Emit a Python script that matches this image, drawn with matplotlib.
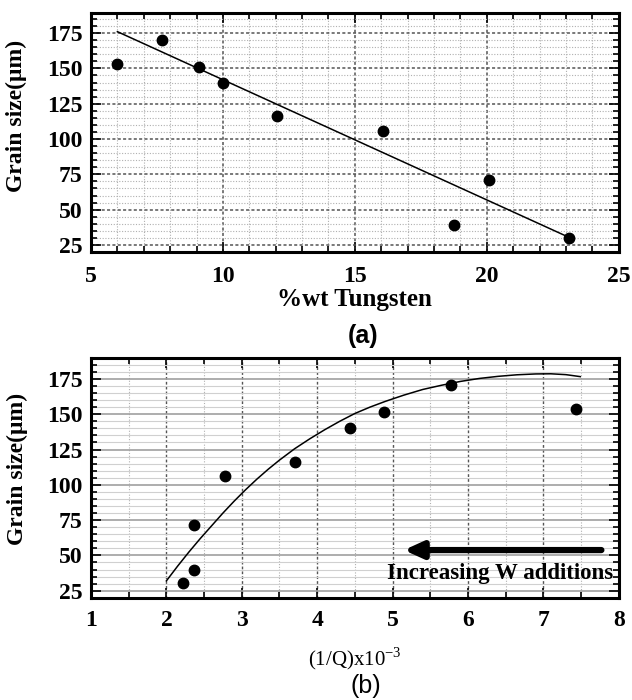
import matplotlib
matplotlib.use("Agg")
import matplotlib.pyplot as plt
from matplotlib.ticker import MultipleLocator

plt.rcParams['font.family'] = ['Liberation Serif', 'DejaVu Serif']
plt.rcParams['mathtext.fontset'] = 'custom'
plt.rcParams['mathtext.rm'] = 'Liberation Serif'

# panel (a): grain size vs tungsten content
w_pct = [6.0, 7.7, 9.1, 10.0, 12.05, 16.05, 18.75, 20.1, 23.1]
grain_a = [153, 170, 151, 140, 116, 106, 39, 71, 30]
fit_a_x = [6.0, 23.1]
fit_a_y = [176, 30.5]

# panel (b): grain size vs 1/Q
inv_q = [2.22, 2.37, 2.37, 2.78, 3.70, 4.44, 4.89, 5.78, 7.43]
grain_b = [30.5, 39.5, 71.5, 106.5, 116.5, 140.5, 151.5, 171, 153.5]
fit_b_x = [2.0, 2.15, 2.3, 2.45, 2.6, 2.75, 2.9, 3.05, 3.2, 3.35, 3.5, 3.7,
           3.9, 4.1, 4.3, 4.5, 4.7, 4.9, 5.15, 5.4, 5.65, 5.9, 6.15, 6.4,
           6.65, 6.9, 7.1, 7.3, 7.49]
fit_b_y = [32, 42.5, 52.5, 62, 71, 80, 88.5, 96.5, 104, 111, 117.5, 125.5,
           132.5, 139, 145, 150.5, 155, 159, 163.5, 167.5, 170.5, 173.2, 175.3,
           176.8, 177.9, 178.5, 178.6, 178, 176.6]

fig = plt.figure(figsize=(6.32, 7.0), dpi=100)
ax1 = fig.add_axes([0.144, 0.64, 0.835, 0.341])
ax2 = fig.add_axes([0.144, 0.146, 0.835, 0.343])

ylab = dict(fontsize=17, fontweight='bold')

def style(ax, xpad):
    for s in ax.spines.values():
        s.set_linewidth(2.2)
    ax.tick_params(which='both', direction='in', top=True, right=True,
                   labelsize=17, width=1.2)
    ax.tick_params(which='major', length=7, pad=xpad)
    ax.tick_params(which='minor', length=4)
    ax.tick_params(axis='y', pad=6)
    for t in ax.get_xticklabels() + ax.get_yticklabels():
        t.set_fontweight('bold')
    ax.set_axisbelow(True)

# ---- (a)
ax1.plot(fit_a_x, fit_a_y, color='black', lw=1.1)
ax1.plot(w_pct, grain_a, 'o', color='black', ms=7.5)
ax1.set_xlim(5, 25)
ax1.set_ylim(20, 189)
ax1.xaxis.set_major_locator(MultipleLocator(5))
ax1.xaxis.set_minor_locator(MultipleLocator(1))
ax1.set_yticks([25, 50, 75, 100, 125, 150, 175])
ax1.yaxis.set_minor_locator(MultipleLocator(5))
ax1.grid(which='major', color='#555555', lw=1.1, ls=(0, (2, 1.5)))
ax1.grid(which='minor', color='#b0b0b0', lw=0.8, ls=(0, (1, 1.5)))
style(ax1, 10)
ax1.set_xlabel('%wt Tungsten', fontsize=18, fontweight='bold')
ax1.xaxis.set_label_coords(0.5, -0.15)
ax1.set_ylabel('Grain size(μm)', **ylab)
ax1.yaxis.set_label_coords(-0.122, 0.57)

# ---- (b)
ax2.plot(fit_b_x, fit_b_y, color='black', lw=1.1)
ax2.plot(inv_q, grain_b, 'o', color='black', ms=7.5)
ax2.set_xlim(1, 8)
ax2.set_ylim(20, 190)
ax2.xaxis.set_major_locator(MultipleLocator(1))
ax2.xaxis.set_minor_locator(MultipleLocator(0.5))
ax2.set_yticks([25, 50, 75, 100, 125, 150, 175])
ax2.yaxis.set_minor_locator(MultipleLocator(5))
ax2.tick_params(axis='y', which='minor', length=0)
ax2.grid(axis='x', which='major', color='#555555', lw=1.0, ls=(0, (2, 1.5)))
ax2.grid(axis='x', which='minor', color='#b0b0b0', lw=0.8, ls=(0, (1, 1.5)))
ax2.grid(axis='y', which='major', color='#a0a0a0', lw=1.2)
ax2.grid(axis='y', which='minor', color='#d0d0d0', lw=0.8)
style(ax2, 9)
ax2.set_xlabel('(1/Q)x10$^{-3}$', fontsize=15)
ax2.xaxis.set_label_coords(0.5, -0.2)
ax2.set_ylabel('Grain size(μm)', **ylab)
ax2.yaxis.set_label_coords(-0.12, 0.535)

ax2.annotate('', xy=(5.15, 53.8), xytext=(7.77, 53.8),
             arrowprops=dict(arrowstyle='-|>,head_length=1.1,head_width=0.5',
                             color='black', lw=4.5, shrinkA=0, shrinkB=0))
ax2.text(6.43, 37, 'Increasing W additions', fontsize=16.5, fontweight='bold',
         ha='center', va='center')

fig.text(0.574, 1 - 336 / 700, '(a)', fontsize=18, fontweight='bold',
         family='Liberation Sans', ha='center', va='center')
fig.text(0.579, 1 - 686 / 700, '(b)', fontsize=18,
         family='Liberation Sans', ha='center', va='center')

fig.savefig('out.png', dpi=100)
